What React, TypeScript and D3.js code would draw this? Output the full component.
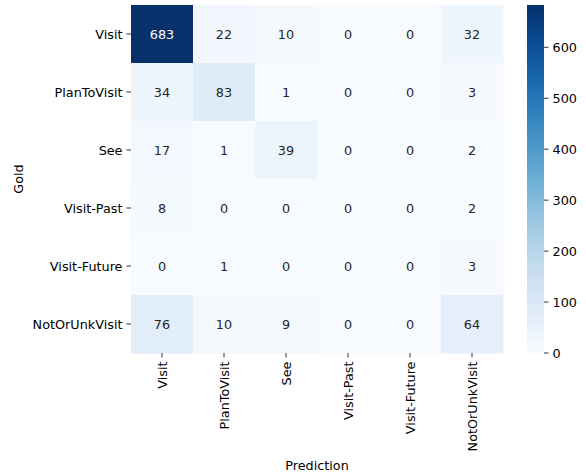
import React from 'react';
import * as d3 from 'd3';

const labels = ['Visit', 'PlanToVisit', 'See', 'Visit-Past', 'Visit-Future', 'NotOrUnkVisit'];
const visitRow = [683, 22, 10, 0, 0, 32];
const planRow = [34, 83, 1, 0, 0, 3];
const seeRow = [17, 1, 39, 0, 0, 2];
const pastRow = [8, 0, 0, 0, 0, 2];
const futureRow = [0, 1, 0, 0, 0, 3];
const notRow = [76, 10, 9, 0, 0, 64];
const matrix = [visitRow, planRow, seeRow, pastRow, futureRow, notRow];
const cbTicks = [0, 100, 200, 300, 400, 500, 600];

export default function App() {
  const W = 586;
  const H = 475;
  const plot = { left: 131, right: 503, top: 5, bottom: 353 };
  const cb = { left: 527, right: 544 };
  const font = 'DejaVu Sans, sans-serif';
  const fs = 12.8;
  const tickLen = 4.5;
  const pad = 8.5;

  const vmax = d3.max(matrix.flat()) as number;
  const x = d3.scaleBand().domain(labels).range([plot.left, plot.right]);
  const y = d3.scaleBand().domain(labels).range([plot.top, plot.bottom]);
  const color = d3.scaleSequential(d3.interpolateBlues).domain([0, vmax]);
  const cbY = d3.scaleLinear().domain([0, vmax]).range([plot.bottom, plot.top]);

  const stops = d3.range(0, 1.0001, 0.05);

  // dark text on light cells, white on dark ones
  const textFill = (v: number) => {
    const c = d3.rgb(color(v));
    const lum = 0.2126 * c.r + 0.7152 * c.g + 0.0722 * c.b;
    return lum / 255 > 0.408 ? '#262626' : '#ffffff';
  };

  return (
    <svg width={W} height={H} style={{ position: 'absolute', left: 0, top: 0, background: '#fff' }}
      fontFamily={font}>
      <defs>
        <linearGradient id="cbar" x1="0" y1="1" x2="0" y2="0">
          {stops.map((t) => (
            <stop key={t} offset={t} stopColor={d3.interpolateBlues(t)} />
          ))}
        </linearGradient>
      </defs>
      {matrix.map((row, i) =>
        row.map((v, j) => (
          <g key={`${i}-${j}`}>
            <rect x={x(labels[j])} y={y(labels[i])} width={x.bandwidth() + 0.5}
              height={y.bandwidth() + 0.5} fill={color(v)} />
            <text x={(x(labels[j]) as number) + x.bandwidth() / 2}
              y={(y(labels[i]) as number) + y.bandwidth() / 2}
              textAnchor="middle" dominantBaseline="central" fontSize={fs} fill={textFill(v)}>
              {v}
            </text>
          </g>
        ))
      )}
      {labels.map((l) => {
        const cy = (y(l) as number) + y.bandwidth() / 2;
        return (
          <g key={'y' + l}>
            <line x1={plot.left - tickLen} x2={plot.left} y1={cy} y2={cy} stroke="#000" strokeWidth={0.8} />
            <text x={plot.left - pad} y={cy} textAnchor="end" dominantBaseline="central" fontSize={fs}>{l}</text>
          </g>
        );
      })}
      {labels.map((l) => {
        const cx = (x(l) as number) + x.bandwidth() / 2;
        return (
          <g key={'x' + l}>
            <line x1={cx} x2={cx} y1={plot.bottom} y2={plot.bottom + tickLen} stroke="#000" strokeWidth={0.8} />
            <text transform={`translate(${cx},${plot.bottom + pad}) rotate(-90)`} textAnchor="end"
              dominantBaseline="central" fontSize={fs}>{l}</text>
          </g>
        );
      })}
      <text transform={`translate(18,${(plot.top + plot.bottom) / 2}) rotate(-90)`} textAnchor="middle"
        dominantBaseline="central" fontSize={fs}>Gold</text>
      <text x={(plot.left + plot.right) / 2} y={465} textAnchor="middle" dominantBaseline="central"
        fontSize={fs}>Prediction</text>
      <rect x={cb.left} y={plot.top} width={cb.right - cb.left} height={plot.bottom - plot.top} fill="url(#cbar)" />
      {cbTicks.map((t) => (
        <g key={'c' + t}>
          <line x1={cb.right} x2={cb.right + tickLen} y1={cbY(t)} y2={cbY(t)} stroke="#000" strokeWidth={0.8} />
          <text x={cb.right + pad} y={cbY(t)} dominantBaseline="central" fontSize={fs}>{t}</text>
        </g>
      ))}
    </svg>
  );
}
